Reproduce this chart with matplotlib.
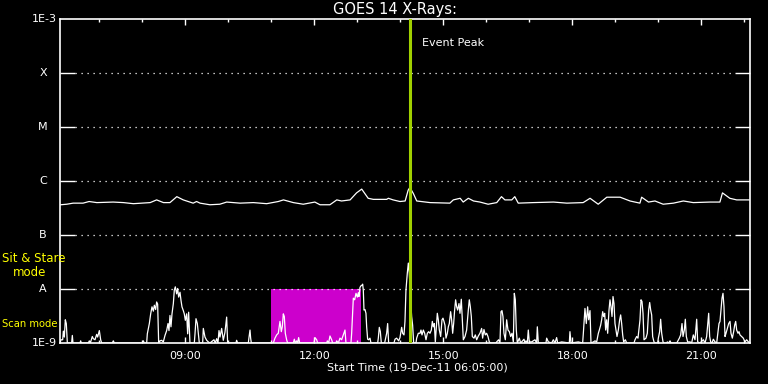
import matplotlib
matplotlib.use('Agg')
import matplotlib.pyplot as plt
from matplotlib.ticker import FixedLocator, NullLocator

# time axis in decimal hours, 19-Dec-2011
t_start = 6 + 5 / 60.
t_end = 22.13
peak_time = 14.233
stare_start, stare_end = 11.0, 13.083

level_names = ['1E-9', 'A', 'B', 'C', 'M', 'X', '1E-3']
level_values = [1e-9, 1e-8, 1e-7, 1e-6, 1e-5, 1e-4, 1e-3]
hour_ticks = [9, 12, 15, 18, 21]
hour_labels = ['09:00', '12:00', '15:00', '18:00', '21:00']

# GOES 14 long channel flux (log10 W/m^2)
goes_hours = [6.10, 6.24, 6.39, 6.62, 6.76, 6.94, 7.32, 7.56, 7.79, 8.18, 8.33, 8.49,
              8.64, 8.80, 8.95, 9.18, 9.26, 9.34, 9.57, 9.80, 9.96, 10.27, 10.58, 10.89,
              11.16, 11.28, 11.51, 11.74, 12.01, 12.13, 12.36, 12.52, 12.63, 12.83, 12.98,
              13.10, 13.25, 13.37, 13.68, 13.72, 13.83, 13.99, 14.11, 14.18, 14.22, 14.30,
              14.38, 14.69, 15.15, 15.23, 15.39, 15.46, 15.58, 15.70, 15.85, 16.04, 16.24,
              16.35, 16.43, 16.59, 16.66, 16.74, 17.09, 17.56, 17.87, 18.25, 18.41, 18.60,
              18.80, 19.11, 19.34, 19.57, 19.61, 19.77, 19.92, 20.11, 20.35, 20.58, 20.81,
              21.20, 21.43, 21.49, 21.66, 21.82, 22.11]
goes_log = [-6.44, -6.43, -6.41, -6.41, -6.38, -6.40, -6.39, -6.40, -6.42, -6.40, -6.35, -6.40,
            -6.40, -6.29, -6.35, -6.41, -6.38, -6.41, -6.44, -6.43, -6.39, -6.41, -6.40, -6.42,
            -6.38, -6.35, -6.40, -6.43, -6.39, -6.44, -6.44, -6.35, -6.37, -6.35, -6.22,
            -6.15, -6.32, -6.34, -6.34, -6.32, -6.35, -6.38, -6.37, -6.17, -6.12, -6.23,
            -6.37, -6.40, -6.41, -6.35, -6.32, -6.39, -6.32, -6.37, -6.39, -6.43, -6.40,
            -6.29, -6.35, -6.35, -6.29, -6.41, -6.40, -6.39, -6.41, -6.40, -6.32, -6.43,
            -6.30, -6.30, -6.37, -6.41, -6.30, -6.39, -6.37, -6.43, -6.41, -6.37, -6.40,
            -6.39, -6.39, -6.22, -6.32, -6.35, -6.35]

# scan / sit & stare activity trace (hour, log10 value)
scan_points = [
    (6.083, -9), (6.106, -8.94), (6.145, -8.94), (6.161, -8.78), (6.184, -8.89), (6.207, -8.57),
    (6.230, -8.64), (6.254, -9), (6.354, -9), (6.370, -8.86), (6.385, -9), (6.548, -9),
    (6.564, -8.96), (6.579, -9), (6.742, -9), (6.765, -8.96), (6.788, -9), (6.835, -8.88),
    (6.858, -8.92), (6.897, -8.94), (6.936, -8.84), (6.959, -8.89), (6.998, -8.77), (7.029, -8.94),
    (7.052, -9), (7.300, -9), (7.323, -8.96), (7.347, -9), (7.998, -9), (8.021, -8.96), (8.044, -9),
    (8.099, -9), (8.114, -8.83), (8.161, -8.64), (8.192, -8.46), (8.223, -8.33), (8.254, -8.41),
    (8.277, -8.30), (8.308, -8.38), (8.331, -8.24), (8.354, -8.28), (8.378, -9), (8.409, -8.96),
    (8.447, -8.95), (8.486, -8.98), (8.525, -8.86), (8.564, -8.77), (8.595, -8.64), (8.618, -8.77),
    (8.641, -8.49), (8.664, -8.70), (8.688, -8.46), (8.719, -8.27), (8.742, -8.02), (8.765, -7.96),
    (8.796, -8.09), (8.819, -7.99), (8.843, -8.15), (8.874, -8.06), (8.897, -8.21), (8.920, -8.33),
    (8.951, -8.40), (8.974, -8.46), (8.998, -8.58), (9.029, -8.46), (9.052, -8.83), (9.075, -8.43),
    (9.106, -9), (9.207, -9), (9.223, -8.83), (9.246, -8.55), (9.277, -8.64), (9.300, -8.83),
    (9.323, -9), (9.401, -9), (9.416, -8.73), (9.455, -8.89), (9.494, -8.95), (9.533, -8.98),
    (9.571, -9), (9.664, -8.94), (9.695, -9), (9.727, -8.92), (9.757, -9), (9.781, -8.77),
    (9.804, -8.89), (9.843, -8.73), (9.881, -8.95), (9.920, -8.80), (9.959, -8.52), (9.982, -9),
    (10.176, -9), (10.191, -8.95), (10.215, -9), (10.463, -9), (10.478, -8.90), (10.502, -8.76),
    (10.517, -8.91), (10.533, -9), (11.044, -9), (11.083, -8.91), (11.122, -8.85), (11.160, -8.82),
    (11.199, -8.60), (11.230, -8.79), (11.253, -8.70), (11.277, -8.46), (11.300, -8.51),
    (11.323, -8.82), (11.354, -8.94), (11.377, -9), (11.509, -9), (11.533, -8.93), (11.556, -9),
    (11.587, -8.96), (11.610, -9), (11.633, -8.90), (11.657, -9), (11.990, -9), (12.013, -8.90),
    (12.052, -8.94), (12.075, -9), (12.285, -9), (12.300, -8.96), (12.331, -9), (12.362, -8.87),
    (12.401, -8.94), (12.424, -9), (12.502, -9), (12.517, -8.96), (12.556, -9), (12.595, -8.91),
    (12.633, -8.94), (12.672, -8.85), (12.711, -8.76), (12.734, -9), (12.850, -9), (12.866, -8.82),
    (12.889, -8.45), (12.905, -8.17), (12.936, -8.20), (12.967, -8.08), (12.998, -8.15),
    (13.021, -8.07), (13.036, -8.14), (13.060, -7.97), (13.083, -7.94), (13.106, -7.93),
    (13.122, -7.91), (13.137, -8.02), (13.153, -8.39), (13.176, -8.38), (13.199, -8.45),
    (13.215, -8.70), (13.238, -8.93), (13.261, -8.94), (13.292, -8.91), (13.315, -9), (13.471, -9),
    (13.486, -8.91), (13.509, -8.71), (13.533, -8.79), (13.556, -9), (13.633, -9), (13.649, -8.94),
    (13.680, -8.82), (13.703, -8.64), (13.726, -9), (13.850, -9), (13.874, -8.93), (13.912, -8.91),
    (13.959, -8.96), (13.990, -8.90), (14.029, -8.71), (14.052, -8.82), (14.083, -8.85),
    (14.106, -8.60), (14.129, -8.02), (14.160, -7.71), (14.184, -7.52), (14.207, -7.71),
    (14.238, -8.20), (14.261, -8.51), (14.284, -8.67), (14.308, -9), (14.362, -9), (14.378, -8.91),
    (14.416, -8.82), (14.455, -8.82), (14.478, -8.76), (14.502, -8.85), (14.533, -8.76),
    (14.564, -8.82), (14.595, -8.94), (14.626, -8.82), (14.657, -8.79), (14.688, -8.82),
    (14.719, -8.76), (14.742, -8.60), (14.765, -8.70), (14.788, -8.64), (14.812, -8.98),
    (14.858, -8.45), (14.881, -8.57), (14.905, -8.76), (14.936, -8.88), (14.967, -8.57),
    (14.990, -8.54), (15.013, -8.60), (15.036, -8.67), (15.060, -8.91), (15.091, -8.82),
    (15.114, -8.70), (15.137, -8.64), (15.168, -8.42), (15.191, -8.57), (15.215, -8.82),
    (15.238, -8.64), (15.261, -8.39), (15.284, -8.20), (15.308, -8.33), (15.331, -8.39),
    (15.362, -8.27), (15.385, -8.45), (15.416, -8.19), (15.440, -8.57), (15.463, -8.94),
    (15.502, -8.88), (15.540, -8.76), (15.579, -8.39), (15.602, -8.20), (15.626, -8.33),
    (15.649, -8.51), (15.672, -8.88), (15.711, -8.91), (15.742, -8.85), (15.773, -8.94),
    (15.812, -8.87), (15.850, -8.82), (15.889, -8.73), (15.912, -8.91), (15.943, -8.75),
    (15.974, -8.85), (16.005, -8.82), (16.036, -8.88), (16.067, -8.98), (16.098, -9), (16.222, -9),
    (16.238, -8.98), (16.284, -8.94), (16.315, -9), (16.339, -8.42), (16.362, -8.40),
    (16.385, -8.51), (16.408, -8.82), (16.440, -8.94), (16.471, -8.57), (16.502, -8.76),
    (16.533, -8.79), (16.564, -8.88), (16.595, -8.82), (16.626, -8.98), (16.649, -8.08),
    (16.672, -8.20), (16.695, -8.76), (16.719, -9), (16.765, -8.91), (16.796, -9), (16.819, -8.98),
    (16.874, -8.93), (16.897, -9), (16.920, -8.96), (16.951, -9), (16.974, -8.76), (16.997, -8.98),
    (17.052, -8.98), (17.129, -8.94), (17.168, -9), (17.184, -8.70), (17.207, -9), (17.385, -9),
    (17.401, -8.91), (17.440, -8.98), (17.517, -9), (17.556, -8.94), (17.595, -9), (17.633, -8.90),
    (17.657, -9), (17.750, -8.98), (17.928, -9), (17.943, -8.79), (17.967, -9), (18.137, -8.98),
    (18.238, -9), (18.254, -8.82), (18.292, -8.36), (18.323, -8.64), (18.354, -8.33),
    (18.378, -8.57), (18.409, -8.40), (18.432, -9), (18.487, -8.98), (18.525, -8.96),
    (18.564, -8.98), (18.603, -8.82), (18.626, -8.76), (18.657, -8.67), (18.680, -8.57),
    (18.704, -8.42), (18.727, -8.51), (18.750, -8.45), (18.773, -8.76), (18.797, -8.57),
    (18.820, -8.82), (18.851, -8.39), (18.874, -8.20), (18.897, -8.33), (18.921, -8.51),
    (18.944, -8.14), (18.967, -8.27), (18.990, -8.64), (19.014, -8.76), (19.037, -8.88),
    (19.068, -8.76), (19.099, -8.57), (19.122, -8.48), (19.145, -8.64), (19.169, -8.85),
    (19.192, -8.98), (19.231, -8.94), (19.262, -9), (19.432, -9), (19.456, -8.94), (19.494, -8.88),
    (19.525, -8.91), (19.572, -8.57), (19.595, -8.20), (19.618, -8.23), (19.642, -8.45),
    (19.665, -8.94), (19.711, -8.91), (19.742, -8.82), (19.773, -8.39), (19.797, -8.25),
    (19.820, -8.39), (19.843, -8.48), (19.866, -8.88), (19.897, -8.98), (19.928, -9), (19.983, -9),
    (19.998, -8.91), (20.029, -8.79), (20.052, -8.56), (20.076, -8.82), (20.107, -8.98),
    (20.130, -9), (20.192, -9), (20.207, -8.98), (20.238, -9), (20.270, -8.96), (20.293, -9),
    (20.425, -9), (20.440, -8.98), (20.487, -8.91), (20.518, -8.85), (20.549, -8.64),
    (20.572, -8.88), (20.603, -8.76), (20.626, -8.56), (20.649, -8.88), (20.680, -8.98),
    (20.735, -8.98), (20.773, -9), (20.812, -8.85), (20.851, -8.94), (20.890, -8.56),
    (20.913, -8.98), (20.967, -9), (21.045, -8.94), (21.084, -9), (21.122, -8.88), (21.169, -8.45),
    (21.192, -8.88), (21.215, -8.98), (21.246, -9), (21.277, -8.93), (21.316, -8.98), (21.355, -9),
    (21.378, -8.85), (21.409, -8.64), (21.432, -8.60), (21.456, -8.39), (21.479, -8.17),
    (21.502, -8.08), (21.525, -8.33), (21.549, -8.88), (21.572, -8.82), (21.603, -8.73),
    (21.634, -8.64), (21.665, -8.60), (21.688, -8.82), (21.719, -8.91), (21.750, -8.79),
    (21.773, -8.67), (21.797, -8.60), (21.820, -8.76), (21.851, -8.82), (21.874, -8.79),
    (21.897, -8.85), (21.936, -8.88), (21.974, -8.91), (22.014, -8.98), (22.052, -8.94), (22.114, -9),
]
scan_hours = [p[0] for p in scan_points]
scan_log = [p[1] for p in scan_points]

W, H = 768, 384
fig = plt.figure(figsize=(W / 100., H / 100.), dpi=100, facecolor='black')
ax = fig.add_axes([60. / W, 41. / H, 690. / W, 324. / H], facecolor='black')

ax.set_yscale('log')
ax.set_xlim(t_start, t_end)
ax.set_ylim(1e-9, 1e-3)

# sit & stare window
ax.fill_between([stare_start, stare_end], 1e-9, 1e-8, color='#cc00cc', lw=0, zorder=1)

# dotted level lines
for lv in level_values[1:-1]:
    ax.axhline(lv, xmin=15. / 690, xmax=1 - 15. / 690, color='white', lw=0.9,
               ls=(0, (1, 3.8)), zorder=2)

ax.plot(scan_hours, [10 ** v for v in scan_log], color='white', lw=0.9, zorder=3)
ax.plot(goes_hours, [10 ** v for v in goes_log], color='white', lw=0.9, zorder=3)

ax.axvline(peak_time, color='#a0d000', lw=2.2, zorder=4)
ax.annotate('Event Peak', xy=(peak_time, 1), xycoords=('data', 'axes fraction'),
            xytext=(8, -17), textcoords='offset points', color='white', fontsize=8,
            ha='left', va='center')

for s in ax.spines.values():
    s.set_color('white')
    s.set_linewidth(1.2)

ax.xaxis.set_major_locator(FixedLocator(hour_ticks))
ax.xaxis.set_minor_locator(FixedLocator(range(7, 23)))
ax.set_xticklabels(hour_labels)
ax.tick_params(axis='x', which='major', direction='in', top=True, length=4.5, width=1,
               color='white', labelcolor='white', labelsize=8, pad=6)
ax.tick_params(axis='x', which='minor', direction='in', top=True, length=2.5, width=1,
               color='white')

ax.yaxis.set_major_locator(FixedLocator(level_values[1:-1]))
ax.yaxis.set_minor_locator(NullLocator())
ax.tick_params(axis='y', which='major', direction='in', right=True, length=10.8, width=1,
               color='white', labelleft=False)

ytr = ax.get_yaxis_transform()
for name, lv in zip(level_names, level_values):
    if name.startswith('1E'):
        ax.text(-3. / 690, lv, name, transform=ytr, color='white', fontsize=8,
                ha='right', va='center')
    else:
        ax.text(-17. / 690, lv, name, transform=ytr, color='white', fontsize=8,
                ha='center', va='center')

fig.text(457. / W, 1 - 9.5 / H, 'GOES 14 X-Rays:', color='white', fontsize=10.5,
         ha='right', va='center')
fig.text(417. / W, 1 - 368. / H, 'Start Time (19-Dec-11 06:05:00)', color='white',
         fontsize=8, ha='center', va='center')

fig.text(2. / W, 1 - 259. / H, 'Sit & Stare', color='yellow', fontsize=8.5, va='center')
fig.text(13. / W, 1 - 272. / H, 'mode', color='yellow', fontsize=8.5, va='center')
fig.text(2. / W, 1 - 324. / H, 'Scan mode', color='yellow', fontsize=7.2, va='center')

fig.savefig('out.png', dpi=100, facecolor='black')
